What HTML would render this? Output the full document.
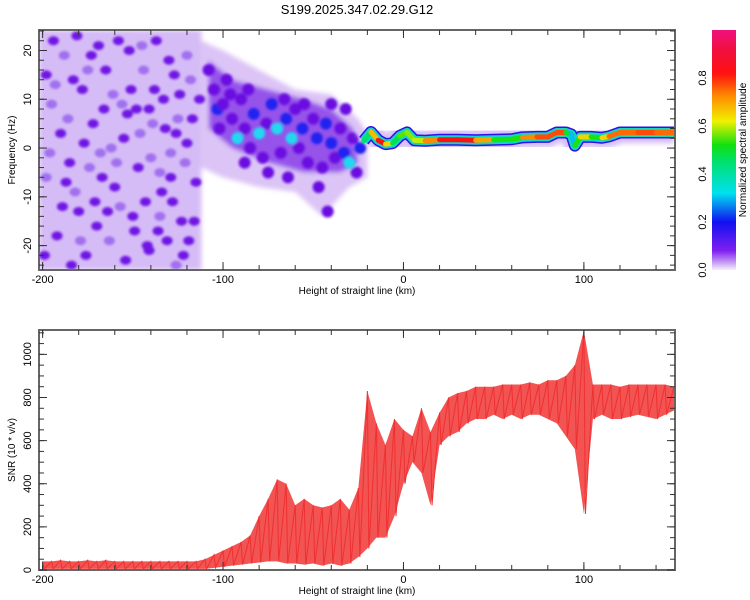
<!DOCTYPE html>
<html><head><meta charset="utf-8"><style>
body{margin:0;background:#fff;}
svg{display:block;font-family:"Liberation Sans",sans-serif;}
</style></head><body>
<svg id="chart" width="750" height="600" xmlns="http://www.w3.org/2000/svg">
<defs>
<linearGradient id="cb" x1="0" y1="1" x2="0" y2="0">
<stop offset="0" stop-color="#f6f0fd"/><stop offset="0.03" stop-color="#c8a0f4"/><stop offset="0.08" stop-color="#8020f0"/>
<stop offset="0.2" stop-color="#1010f0"/><stop offset="0.32" stop-color="#00e0f0"/><stop offset="0.45" stop-color="#00e070"/>
<stop offset="0.52" stop-color="#10e010"/><stop offset="0.62" stop-color="#f0f000"/><stop offset="0.72" stop-color="#ff9000"/>
<stop offset="0.82" stop-color="#ff1010"/><stop offset="0.92" stop-color="#f01040"/><stop offset="1" stop-color="#f01080"/>
</linearGradient>
<filter id="soft"><feGaussianBlur stdDeviation="1.2"/></filter>
<filter id="soft2"><feGaussianBlur stdDeviation="2.5"/></filter>
<clipPath id="clipTop"><rect x="39" y="30" width="636" height="240"/></clipPath>
<clipPath id="clipBot"><rect x="39" y="330" width="636" height="240"/></clipPath>
</defs>
<text x="357" y="14" text-anchor="middle" font-size="13">S199.2025.347.02.29.G12</text>
<g id="top"></g>
<g id="bot"></g>
<g id="cbar"></g>
</svg>
<script>
// ---- data ----
const noiseKm = [-195,-190,-185,-182,-178,-172,-168,-165,-160,-156,-152,-150,-146,-142,-138,-135,-130,-128,-125,-122,-120,-118,-115,-192,-188,-176,-170,-162,-158,-148,-140,-136,-132,-126,-124,-116,-198,-194,-180,-174,-166,-154,-144,-134,-198,-186,-177,-169,-157,-151,-143,-139,-131,-127,-121,-119,-184,-163,-147,-137,-196,-189,-183,-179,-173,-167,-161,-155,-149,-145,-141,-133,-129,-123,-117,-193,-187,-181,-175,-171,-164,-159,-153,-141,-135,-129,-126,-120,-113,-199];
const noiseF = [9,3,-3,-9,12,5,-1,16,-8,9,20,-14,3,-20,12,-5,18,-11,6,-22,1,14,-7,-18,19,-22,-16,0,22,8,-2,-17,4,-24,11,-15,-6,22,-13,-4,8,-23,16,-9,15,6,1,21,-12,12,-11,5,-19,15,-3,-19,-24,-19,-4,22,-1,-12,14,-19,19,-6,11,2,-17,21,8,10,-1,-15,6,13,-7,23,16,-11,-13,-3,7,-21,-14,-6,3,19,10,-22];
const midKm = [-108,-105,-103,-100,-98,-95,-92,-90,-88,-85,-83,-80,-78,-76,-73,-70,-68,-65,-62,-60,-58,-56,-53,-50,-48,-45,-43,-40,-38,-35,-33,-30,-28,-26,-24,-102,-96,-86,-75,-66,-55,-47,-42,-40,-32,-64,-88];
const midF = [16,12,8,9,14,6,2,10,4,0,7,3,-2,5,9,4,-1,6,2,8,0,4,-3,6,2,-4,5,1,-2,4,-1,-3,2,-5,0,4,11,12,-5,10,9,-8,-13,9,8,-6,-3];
const midLevel = [1,1,2,1,1,1,3,1,1,1,2,3,1,1,2,3,1,2,3,1,1,2,1,1,2,1,2,2,1,1,2,3,1,1,2,1,1,1,1,1,1,1,1,1,1,1,1];
const ridgeKm = [-22,-18,-14,-10,-6,-2,2,6,12,20,30,40,50,60,66,74,80,85,90,93,95,98,104,110,114,120,130,140,150];
const ridgeF = [1.5,3.3,1.6,0.8,1.0,2.5,3.2,1.6,1.5,1.7,1.7,1.6,1.7,1.8,2.2,2.3,2.3,3.2,3.2,2.8,0.5,2.3,2.3,2.1,2.4,3.2,3.2,3.2,3.2];
const ridgeAmp = [0.35,0.55,0.8,0.85,0.45,0.5,0.6,0.55,0.65,0.8,0.85,0.8,0.6,0.45,0.6,0.85,0.7,0.85,0.7,0.3,0.3,0.75,0.55,0.5,0.8,0.7,0.8,0.75,0.75];
const snrKm = [-200,-195,-190,-185,-180,-175,-170,-165,-160,-155,-150,-145,-140,-135,-130,-125,-120,-115,-110,-105,-100,-95,-90,-85,-80,-75,-70,-65,-60,-55,-50,-45,-40,-35,-30,-25,-20,-15,-10,-5,0,5,10,15,20,25,30,35,40,45,50,55,60,65,70,75,80,85,90,95,100,105,110,115,120,125,130,135,140,145,150];
const snrLow = [5,5,5,5,5,5,5,5,5,5,5,5,5,5,5,5,5,5,5,10,15,20,25,30,35,40,40,30,30,25,30,20,30,20,30,60,100,150,150,250,400,500,450,300,580,620,640,680,700,700,720,700,720,700,720,720,700,680,620,560,260,700,720,700,700,710,720,710,700,720,740];
const snrHigh = [40,40,45,40,40,45,40,45,40,40,40,40,40,40,40,40,40,40,50,70,90,110,130,160,250,330,420,400,300,330,300,290,300,330,280,380,830,680,580,700,650,620,750,640,730,800,820,830,850,850,850,860,860,860,870,860,880,880,900,950,1110,860,860,860,850,860,860,860,860,860,850];
const xTicks = [-200,-100,0,100];
const fTicks = [-20,-10,0,10,20];
const snrTicks = [0,200,400,600,800,1000];
const cbTicks = [0.0,0.2,0.4,0.6,0.8];

// ---- axes ----
const X0=39, X1=675, KMIN=-202, KMAX=150.5;
const xs = k => X0 + (k-KMIN)*(X1-X0)/(KMAX-KMIN);
const FT=30, FB=270, FMAX=24.2, FMIN=-25;
const yf = f => FT + (FMAX-f)*(FB-FT)/(FMAX-FMIN);
const ST=330, SB=570, SMAX=1113, SMIN=0;
const ys = v => SB - (v-SMIN)*(SB-ST)/(SMAX-SMIN);
const NS="http://www.w3.org/2000/svg";
function mk(tag, attrs, parent){const e=document.createElementNS(NS,tag);for(const k in attrs)e.setAttribute(k,attrs[k]);parent.appendChild(e);return e;}
function colorOf(a){
  const st=[[0,[246,240,253]],[0.03,[200,160,244]],[0.08,[128,32,240]],[0.2,[16,16,240]],[0.32,[0,224,240]],[0.45,[0,224,112]],[0.52,[16,224,16]],[0.62,[240,240,0]],[0.72,[255,144,0]],[0.82,[255,16,16]],[1,[240,16,128]]];
  for(let i=1;i<st.length;i++){if(a<=st[i][0]){const t=(a-st[i-1][0])/(st[i][0]-st[i-1][0]);const c=st[i-1][1].map((v,j)=>Math.round(v+(st[i][1][j]-v)*t));return 'rgb('+c.join(',')+')';}}
  return 'rgb(240,16,128)';
}

// ---- top panel ----
const topG=document.getElementById('top');
const tg=mk('g',{'clip-path':'url(#clipTop)'},topG);
const bg=mk('g',{filter:'url(#soft2)'},tg);
const base=mk('rect',{x:xs(-202),y:FT,width:xs(-112)-xs(-202),height:FB-FT,fill:'#d6bcf6'},bg);


const cloudPts=[[-112,22],[-100,20],[-80,16],[-60,12],[-40,11],[-25,6],[-20,3],[-20,-6],[-30,-8],[-45,-14],[-60,-9],[-80,-8],[-100,-6],[-112,-4]];
const cloud=mk('polygon',{points:cloudPts.map(p=>xs(p[0])+','+yf(p[1])).join(' '),fill:'#dcc4f6'},bg);


const corePts=[[-108,18],[-95,14],[-75,12],[-55,10],[-40,8],[-28,4],[-25,-3],[-35,-5],[-55,-5],[-75,-3],[-95,0],[-108,4]];
const core=mk('polygon',{points:corePts.map(p=>xs(p[0])+','+yf(p[1])).join(' '),fill:'#8a40e8',opacity:'0.85'},bg);


const blobG=mk('g',{filter:'url(#soft)'},tg);
noiseKm.forEach((k,i)=>{
  const c=mk('ellipse',{cx:xs(k),cy:yf(noiseF[i]),rx:5.5,ry:4.5,fill:i%3===0?'#a070ee':'#7018e4'},blobG);
  
  
});
const lvlCol=['', '#6a10e0','#2020f0','#20d8f0'];
midKm.forEach((k,i)=>{
  const c=mk('ellipse',{cx:xs(k),cy:yf(midF[i]),rx:6,ry:6,fill:lvlCol[midLevel[i]]},blobG);
  
  
});
const rpts=ridgeKm.map((k,i)=>xs(k)+','+yf(ridgeF[i])).join(' ');
const halo=mk('polyline',{points:rpts,fill:'none',stroke:'#d8c0f8',"stroke-width":22,"stroke-linejoin":'round',filter:'url(#soft2)'},tg);


const halo2=mk('polyline',{points:rpts,fill:'none',stroke:'#3010e8',"stroke-width":12,"stroke-linejoin":'round'},tg);


const halo3=mk('polyline',{points:rpts,fill:'none',stroke:'#10d8c0',"stroke-width":9,"stroke-linejoin":'round'},tg);


for(let i=0;i<ridgeKm.length-1;i++){
  const s=mk('line',{x1:xs(ridgeKm[i]),y1:yf(ridgeF[i]),x2:xs(ridgeKm[i+1]),y2:yf(ridgeF[i+1]),stroke:colorOf((ridgeAmp[i]+ridgeAmp[i+1])/2),"stroke-width":5,"stroke-linecap":'round'},tg);
  
  
}
function frame(g,T,B,yt,yfn,minorStep,ymin,ymax,xlabel,ylabel,name){
  const r=mk('rect',{x:X0,y:T,width:X1-X0,height:B-T,fill:'none',stroke:'#666',"stroke-width":2},g);
  
  
  for(let k=-200;k<=150;k+=20){
    const x=xs(k);
    mk('line',{x1:x,y1:T,x2:x,y2:T+5,stroke:'#333'},g);
    mk('line',{x1:x,y1:B,x2:x,y2:B-5,stroke:'#333'},g);
  }
  xTicks.forEach(k=>{
    mk('line',{x1:xs(k),y1:T,x2:xs(k),y2:T+8,stroke:'#333'},g);
    mk('line',{x1:xs(k),y1:B,x2:xs(k),y2:B-8,stroke:'#333'},g);
    const t=mk('text',{x:xs(k),y:B+13,"font-size":11,"text-anchor":'middle'},g);t.textContent=k;
    
    
  });
  for(let v=Math.ceil(ymin/minorStep)*minorStep;v<=ymax;v+=minorStep){
    const y=yfn(v);
    mk('line',{x1:X0,y1:y,x2:X0+5,y2:y,stroke:'#333'},g);
    mk('line',{x1:X1,y1:y,x2:X1-5,y2:y,stroke:'#333'},g);
  }
  yt.forEach(v=>{
    const y=yfn(v);
    mk('line',{x1:X0,y1:y,x2:X0+8,y2:y,stroke:'#333'},g);
    mk('line',{x1:X1,y1:y,x2:X1-8,y2:y,stroke:'#333'},g);
    const t=mk('text',{x:0,y:0,"font-size":11,"text-anchor":'middle',transform:'translate(31,'+y+') rotate(-90)'},g);t.textContent=v;
    
    
  });
  const xl=mk('text',{x:357,y:B+24,"font-size":10,"text-anchor":'middle'},g);xl.textContent=xlabel;
  
  
  const yl=mk('text',{x:0,y:0,"font-size":10,"text-anchor":'middle',transform:'translate(15,'+((T+B)/2)+') rotate(-90)'},g);yl.textContent=ylabel;
  
  
}
frame(topG,FT,FB,fTicks,yf,2,-24,24,'Height of straight line (km)','Frequency (Hz)','spectrogram');

// ---- bottom panel ----
const botG=document.getElementById('bot');
const bgc=mk('g',{'clip-path':'url(#clipBot)'},botG);
const upper=snrKm.map((k,i)=>xs(k)+','+ys(snrHigh[i]));
const lower=snrKm.map((k,i)=>xs(k)+','+ys(snrLow[i])).reverse();
const band=mk('polygon',{points:upper.concat(lower).join(' '),fill:'#f03535',opacity:'0.85'},bgc);


let zz=[];
snrKm.forEach((k,i)=>{zz.push(xs(k)+','+ys(snrHigh[i]));zz.push((xs(k)+1.5)+','+ys(snrLow[i]));});
const zl=mk('polyline',{points:zz.join(' '),fill:'none',stroke:'#f03030',"stroke-width":1},bgc);


frame(botG,ST,SB,snrTicks,ys,50,0,1100,'Height of straight line (km)','SNR (10 * v/v)','snr');

// ---- colorbar ----
const cbG=document.getElementById('cbar');
const cr=mk('rect',{x:712,y:30,width:24,height:240,fill:'url(#cb)'},cbG);


cbTicks.forEach(v=>{
  const y=270-v*240;
  const t=mk('text',{x:0,y:0,"font-size":11,"text-anchor":'middle',transform:'translate(706,'+y+') rotate(-90)'},cbG);t.textContent=v.toFixed(1);
  
  
});
const cl=mk('text',{x:0,y:0,"font-size":10,"text-anchor":'middle',transform:'translate(746,150) rotate(-90)'},cbG);cl.textContent='Normalized spectral amplitude';


</script>
</body></html>
